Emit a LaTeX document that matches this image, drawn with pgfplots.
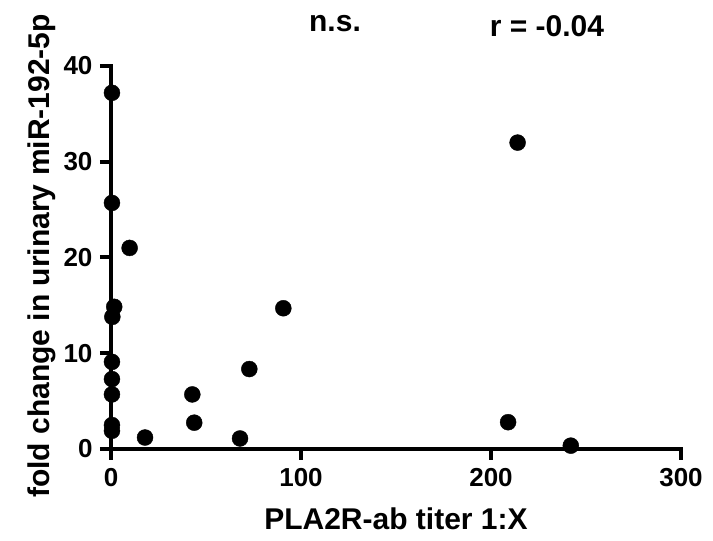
\documentclass[border=0pt]{standalone}
\usepackage{pgfplots}
\pgfplotsset{compat=1.18}
\usepackage{fontspec}
\setmainfont{Liberation Sans}
\newcommand{\tfont}{\fontsize{26}{29}\selectfont\bfseries}
\begin{document}
\begin{tikzpicture}
\begin{axis}[
  scale only axis, width=570pt, height=383pt,
  xmin=0, xmax=300, ymin=0, ymax=40,
  clip=false,
  axis lines*=left,
  every outer x axis line/.append style={-},
  every outer y axis line/.append style={-},
  every inner x axis line/.append style={-},
  every inner y axis line/.append style={-},
  axis line style={line width=4pt, line cap=rect},
  xtick={0,100,200,300}, ytick={0,10,20,30,40},
  minor tick num=0,
  tick align=outside, major tick length=11pt,
  every tick/.style={black, line width=4pt},
  /pgf/number format/assume math mode=true,
  xticklabel={\tfont\pgfmathprintnumber{\tick}},
  yticklabel={\tfont\pgfmathprintnumber{\tick}},
  yticklabel style={xshift=-4pt},
  xticklabel style={yshift=-5pt},
]
\addplot[only marks, mark=*, mark size=8pt, black] coordinates {
(0.5,37.2)(0.5,25.7)(9.8,21.0)(1.7,14.85)(0.7,13.8)(0.5,9.1)(0.5,7.3)(0.5,5.7)(0.5,2.5)(0.5,1.9)
(17.9,1.2)(42.8,5.7)(43.8,2.75)(67.9,1.1)(72.8,8.35)(90.7,14.7)(209,2.8)(214,32.0)(242,0.35)
};
\coordinate (O) at (rel axis cs:0,0);
\end{axis}
\node[anchor=base, rotate=90, font=\fontsize{30}{34}\selectfont\bfseries] at ([xshift=-61pt, yshift=193pt]O) {fold change in urinary miR-192-5p};
\node[anchor=base, font=\fontsize{30}{34}\selectfont\bfseries] at ([xshift=285pt, yshift=-81pt]O) {PLA2R-ab titer 1:X};
\node[anchor=base, font=\fontsize{30}{34}\selectfont\bfseries] at ([xshift=224pt, yshift=417pt]O) {n.s.};
\node[anchor=base, font=\fontsize{30}{34}\selectfont\bfseries] at ([xshift=436pt, yshift=412pt]O) {r = -0.04};
\pgfresetboundingbox
\path ([xshift=-111pt, yshift=-92pt]O) rectangle ([xshift=602pt, yshift=449pt]O);
\end{tikzpicture}
\end{document}
